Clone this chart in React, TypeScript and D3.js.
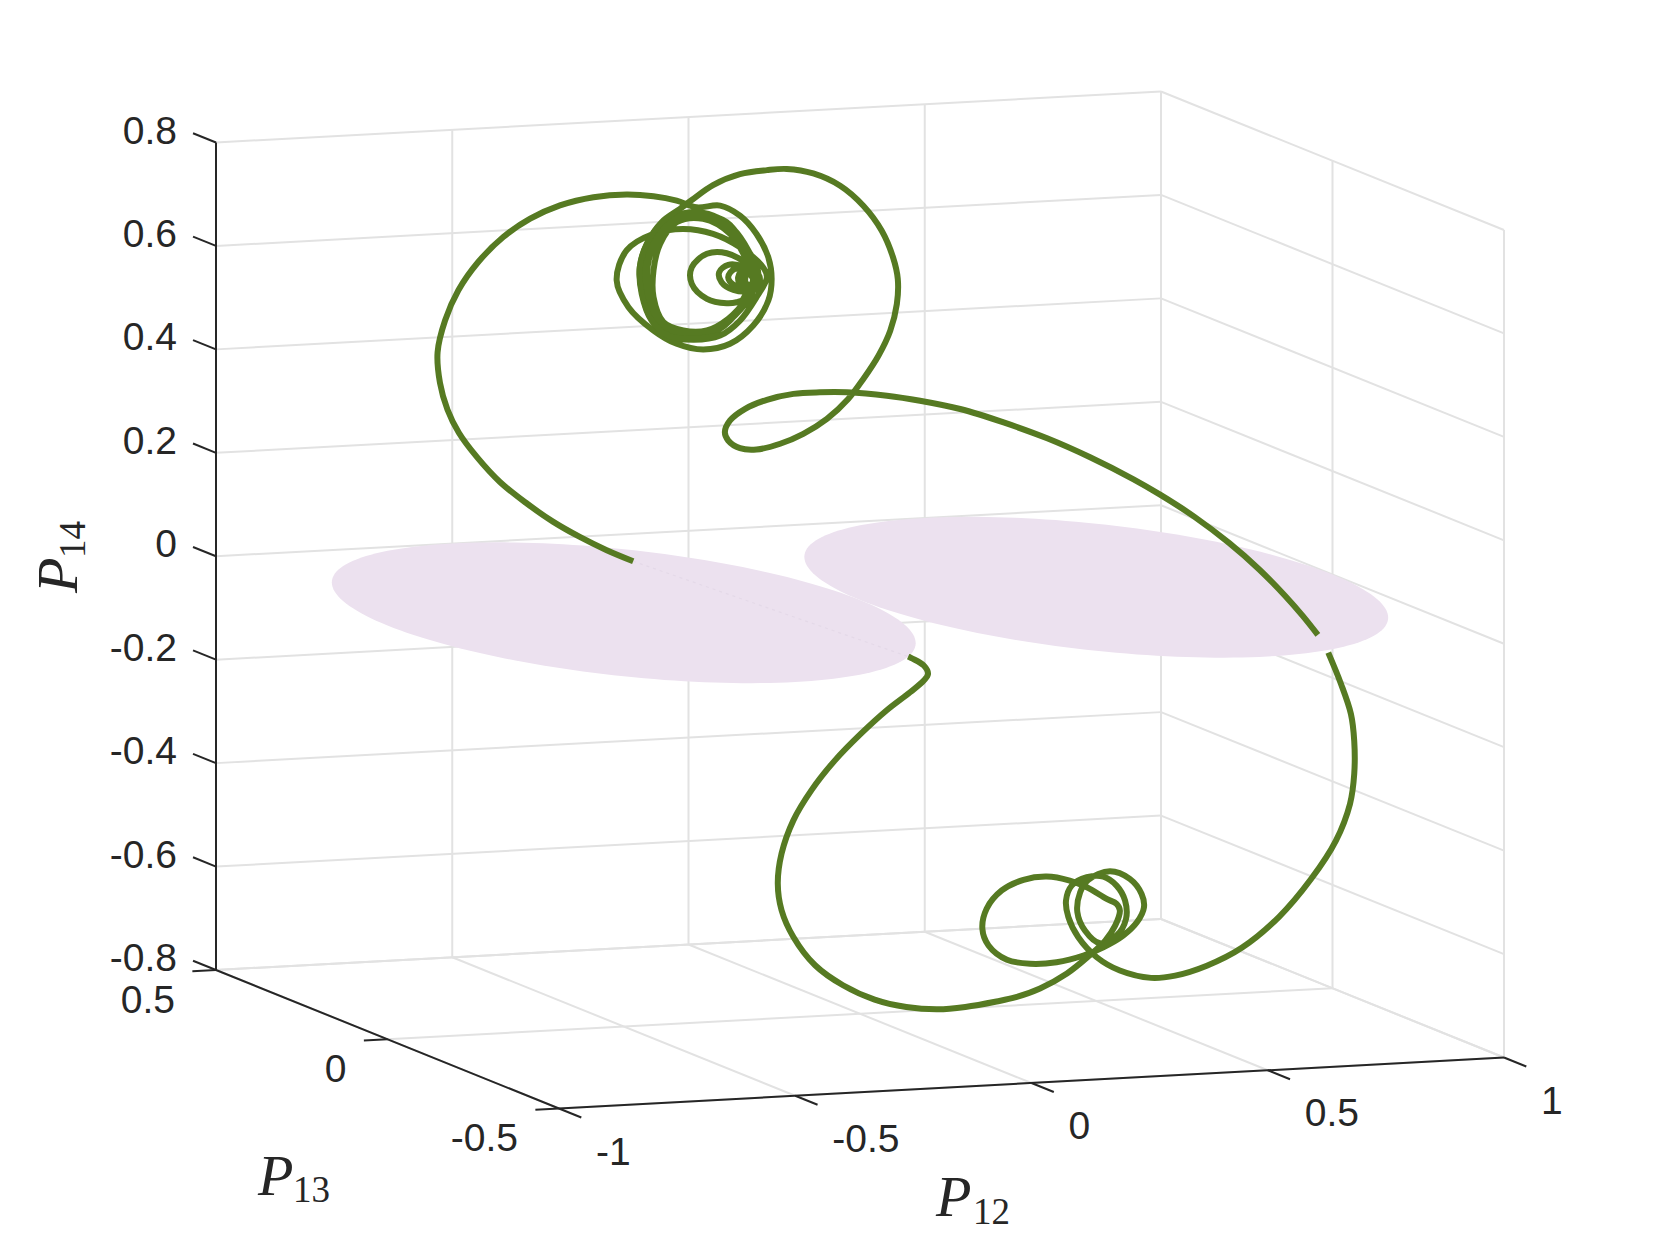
import React from "react";
import * as d3 from "d3";

// ---- axis ticks ----
const p12Ticks = [-1, -0.5, 0, 0.5, 1];
const p13Ticks = [-0.5, 0, 0.5];
const p14Ticks = [-0.8, -0.6, -0.4, -0.2, 0, 0.2, 0.4, 0.6, 0.8];

// ---- discs lying in the P14 = 0 plane ----
const discCentresP12 = [0.5, -0.5];
const discCentreP13 = 0;
const discCentreP14 = 0;
const discRadius = 0.5;

const tracePlaneP13 = 0;

const leftArmP12 = [-.480,-.536,-.593,-.649,-.705,-.762,-.811,-.849,-.873,-.889,-.894,-.878,-.850,-.808,-.755,-.698,-.635,-.564,-.494,-.437,-.388,-.346,
  -.296,-.254,-.219,-.194,-.187,-.194,-.226,-.275,-.332,-.388,-.437,-.490,-.515,-.494,-.437,-.374,-.311,-.254,-.205,-.197,
  -.219,-.254,-.296,-.353,-.406,-.444,-.462,-.466,-.451,-.416,-.360,-.311,-.268,-.236,-.215,-.233,-.265,-.303,-.360,-.409,-.441,-.451,-.441,-.413,-.367,-.311,-.261,-.233,-.222,-.243,-.279,-.324,-.374,-.416,-.437,-.437,-.423,-.388,-.332,-.275,-.243,-.226,-.247,
  -.258,-.296,-.332,-.381,-.420,-.448,-.457,-.451,-.427,-.384,-.332,-.282,-.250,-.227,-.220,-.236,
  -.261,-.282,-.324,-.356,-.356,-.324,-.282,-.236,-.219,-.236,-.268,-.293,-.298,-.279,-.247,-.222,-.236,-.265,-.279,-.265,-.236,-.212,-.226,-.250,-.258,-.243,-.222,-.212,-.233,-.247,-.233,-.226,
  -.212,-.218,-.233,-.248,-.254,-.248,-.233,-.218,-.216,-.224,-.233,-.241,-.243,-.241,-.233,-.224];
const leftArmP14 = [.0985,.1226,.1511,.1830,.2213,.2658,.3167,.3653,.4110,.4640,.5231,.5842,.6408,.6933,.7390,.7717,.7943,.8067,.8084,.8022,.7914,.7764,
  .7772,.7557,.7186,.6721,.6300,.5885,.5418,.5089,.5007,.5145,.5427,.5904,.6432,.7002,.7296,.7360,.7233,.6945,.6533,.6337,
  .5961,.5528,.5259,.5205,.5314,.5688,.6213,.6665,.7109,.7510,.7674,.7586,.7307,.6872,.6412,.5969,.5630,.5360,.5324,.5446,.5879,.6400,.6975,.7347,.7647,.7490,.7078,.6614,.6285,.5910,.5574,.5371,.5395,.5578,.6071,.6587,.7095,.7495,.7533,.7215,.6746,.6320,.5945,
  .5724,.5389,.5277,.5302,.5482,.5883,.6339,.6916,.7322,.7590,.7629,.7442,.7072,.6611,.6284,.5970,
  .5886,.5877,.5984,.6289,.6610,.6853,.6843,.6582,.6283,.6099,.6129,.6288,.6485,.6618,.6555,.6318,.6132,.6210,.6378,.6532,.6453,.6313,.6094,.6170,.6367,.6553,.6479,.6313,.6195,.6331,.6421,.6320,
  .6300,.6148,.6098,.6163,.6321,.6453,.6523,.6438,.6302,.6209,.6195,.6218,.6316,.6392,.6427,.6383];

const rightArmP12 = [-.296,-.353,-.406,-.441,-.462,-.466,-.451,-.420,-.381,-.356,-.311,-.254,-.197,-.155,-.099,-.042,.007,.046,.070,.080,.078,.064,.039,.007,-.025,-.070,-.120,-.169,-.219,-.254,-.279,-.286,-.275,-.243,-.197,-.141,-.085,-.028,.057,.127,.212,.304,.396,.487,.579,.636,.708,.781,.845,.900,.937,.969];
const rightArmP14 = [.5273,.5225,.5314,.5622,.6149,.6665,.7109,.7511,.7751,.7909,.8176,.8359,.8409,.8411,.8297,.8031,.7620,.7117,.6588,.6167,.5685,.5176,.4705,.4271,.3900,.3537,.3272,.3104,.3018,.3061,.3222,.3386,.3607,.3817,.3968,.4055,.4058,.4030,.3923,.3791,.3588,.3283,.2931,.2519,.2047,.1718,.1258,.0718,.0174,-.0366,-.0770,-.1153];

const lowerArcP12 = [.991,1.018,1.039,1.046,1.046,1.037,1.007,.955,.887,.808,.734,.667,.616,.550,.501,.462,.441,.436,.448,.480,.515,.543,.561,.563,.543,.508,.476,.460,.466,.483,.529,.571,.596,.601,.586,.557,.515,.473,.416,.360,.311,.272,.259,.268,.300,.346,.395,.444,.480,.522,.543,.550,.540,.519,.483,.438,.381,.328,.289,.223,.165,.098,.031,-.036,-.095,-.141,-.166,-.174,-.166,-.141,-.103,-.053,.002,.056,.106,.135,.144,.135,.102];
const lowerArcP14 = [-.1507,-.2125,-.2716,-.3241,-.3878,-.4454,-.5154,-.5862,-.6562,-.7122,-.7432,-.7591,-.7610,-.7436,-.7154,-.6749,-.6351,-.6026,-.5743,-.5597,-.5602,-.5790,-.6089,-.6443,-.6756,-.6888,-.6626,-.6263,-.5880,-.5649,-.5506,-.5674,-.5977,-.6238,-.6521,-.6763,-.6968,-.7107,-.7209,-.7211,-.7109,-.6813,-.6484,-.6102,-.5764,-.5581,-.5542,-.5644,-.5791,-.6037,-.6144,-.6277,-.6562,-.6841,-.7131,-.7437,-.7699,-.7846,-.7905,-.7978,-.7996,-.7918,-.7741,-.7431,-.7016,-.6446,-.5917,-.5397,-.4821,-.4191,-.3630,-.3075,-.2586,-.2164,-.1836,-.1623,-.1499,-.1333,-.1144];

// ---- oblique view of the box, as linear scales ----
const pxFromP12 = d3.scaleLinear().domain([-1, 1]).range([0, 945]);
const pyFromP12 = d3.scaleLinear().domain([-1, 1]).range([0, -51]);
const pxFromP13 = d3.scaleLinear().domain([-0.5, 0.5]).range([559, 216]);
const pyFromP13 = d3.scaleLinear().domain([-0.5, 0.5]).range([1108.5, 970]);
const pyFromP14 = d3.scaleLinear().domain([-0.8, 0.8]).range([0, -827.5]);

type V = [number, number];
const project = (a: number, b: number, c: number): V => [
  pxFromP12(a) + pxFromP13(b),
  pyFromP12(a) + pyFromP13(b) + pyFromP14(c),
];

const straight = d3.line<V>();
const smooth = d3.line<V>().curve(d3.curveCatmullRom.alpha(0.5));
const closed = d3.line<V>().curve(d3.curveLinearClosed);
const seg = (a: V, b: V) => straight([a, b]) as string;

const GRID = "#e2e2e2";
const INK = "#262626";
const TRAJ = "#567a22";
const DISC = "#ece1ef";
const SANS = "'Liberation Sans', Arial, sans-serif";
const SERIF = "'Liberation Serif', 'Times New Roman', serif";

const [p12Min, p12Max] = [p12Ticks[0], p12Ticks[p12Ticks.length - 1]];
const [p13Min, p13Max] = [p13Ticks[0], p13Ticks[p13Ticks.length - 1]];
const [p14Min, p14Max] = [p14Ticks[0], p14Ticks[p14Ticks.length - 1]];

const trace = (xs: number[], zs: number[]) =>
  smooth(xs.map((x, i) => project(x, tracePlaneP13, zs[i]))) as string;

function Label({ x, y, anchor, children }: any) {
  return (
    <text x={x} y={y} textAnchor={anchor} fontFamily={SANS} fontSize={39} fill={INK}>
      {children}
    </text>
  );
}

function AxisTitle({ x, y, sx, sy, sub, rotate }: any) {
  return (
    <g fill={INK} fontFamily={SERIF}>
      <text x={x} y={y} fontSize={58} fontStyle="italic" transform={rotate ? `rotate(-90 ${x} ${y})` : undefined}>P</text>
      <text x={sx} y={sy} fontSize={37} transform={rotate ? `rotate(-90 ${sx} ${sy})` : undefined}>{sub}</text>
    </g>
  );
}

export default function App() {
  const grid: string[] = [];
  p14Ticks.forEach((z) => {
    grid.push(seg(project(p12Min, p13Max, z), project(p12Max, p13Max, z)));
    grid.push(seg(project(p12Max, p13Max, z), project(p12Max, p13Min, z)));
  });
  p12Ticks.forEach((x) => {
    grid.push(seg(project(x, p13Max, p14Min), project(x, p13Max, p14Max)));
    grid.push(seg(project(x, p13Min, p14Min), project(x, p13Max, p14Min)));
  });
  p13Ticks.forEach((y) => {
    grid.push(seg(project(p12Max, y, p14Min), project(p12Max, y, p14Max)));
    grid.push(seg(project(p12Min, y, p14Min), project(p12Max, y, p14Min)));
  });

  const discPaths = discCentresP12.map((cx) =>
    closed(
      d3.range(0, 2 * Math.PI, Math.PI / 90).map((t): V =>
        project(cx + discRadius * Math.cos(t), discCentreP13 + discRadius * Math.sin(t), discCentreP14)
      )
    ) as string
  );

  const tickP14 = 0.067; // tick length along P13, in P13 units
  const tickP13 = 0.05; // along P12
  const tickP12 = 0.065; // along P13

  const hiddenFrom = project(leftArmP12[0], tracePlaneP13, leftArmP14[0]);
  const hiddenTo = project(lowerArcP12[lowerArcP12.length - 1], tracePlaneP13, lowerArcP14[lowerArcP14.length - 1]);

  return (
    <svg width={1661} height={1246} viewBox="0 0 1661 1246" style={{ position: "absolute", left: 0, top: 0, background: "#fff" }}>
      <g stroke={GRID} strokeWidth={2} fill="none">
        {grid.map((d, i) => <path key={i} d={d} />)}
      </g>

      {discPaths.map((d, i) => <path key={i} d={d} fill={DISC} />)}
      <path d={seg(hiddenFrom, hiddenTo)} stroke="#e4d9e8" strokeWidth={1.2} strokeDasharray="3 4" fill="none" />

      <g stroke={TRAJ} strokeWidth={6} fill="none" strokeLinejoin="round">
        <path d={trace(leftArmP12, leftArmP14)} />
        <path d={trace(rightArmP12, rightArmP14)} />
        <path d={trace(lowerArcP12, lowerArcP14)} />
      </g>

      <g stroke={INK} strokeWidth={2} fill="none">
        <path d={seg(project(p12Min, p13Max, p14Min), project(p12Min, p13Max, p14Max))} />
        <path d={seg(project(p12Min, p13Max, p14Min), project(p12Min, p13Min, p14Min))} />
        <path d={seg(project(p12Min, p13Min, p14Min), project(p12Max, p13Min, p14Min))} />
        {p14Ticks.map((z) => <path key={`z${z}`} d={seg(project(p12Min, p13Max, z), project(p12Min, p13Max + tickP14, z))} />)}
        {p13Ticks.map((y) => <path key={`y${y}`} d={seg(project(p12Min, y, p14Min), project(p12Min - tickP13, y, p14Min))} />)}
        {p12Ticks.map((x) => <path key={`x${x}`} d={seg(project(x, p13Min, p14Min), project(x, p13Min - tickP12, p14Min))} />)}
      </g>

      {p14Ticks.map((z) => {
        const [px, py] = project(p12Min, p13Max, z);
        return <Label key={`lz${z}`} x={px - 39} y={py + 1} anchor="end">{String(z)}</Label>;
      })}
      {p13Ticks.map((y) => {
        const [px, py] = project(p12Min, y, p14Min);
        return <Label key={`ly${y}`} x={px - 41} y={py + 42.5} anchor="end">{String(y)}</Label>;
      })}
      {p12Ticks.map((x) => {
        const [px, py] = project(x, p13Min, p14Min);
        return <Label key={`lx${x}`} x={px + 37} y={py + 56} anchor="start">{String(x)}</Label>;
      })}

      <AxisTitle x={258} y={1195} sx={293} sy={1202} sub="13" />
      <AxisTitle x={936} y={1216} sx={973} sy={1224} sub="12" />
      <AxisTitle x={77} y={593} sx={85} sy={558} sub="14" rotate />
    </svg>
  );
}
